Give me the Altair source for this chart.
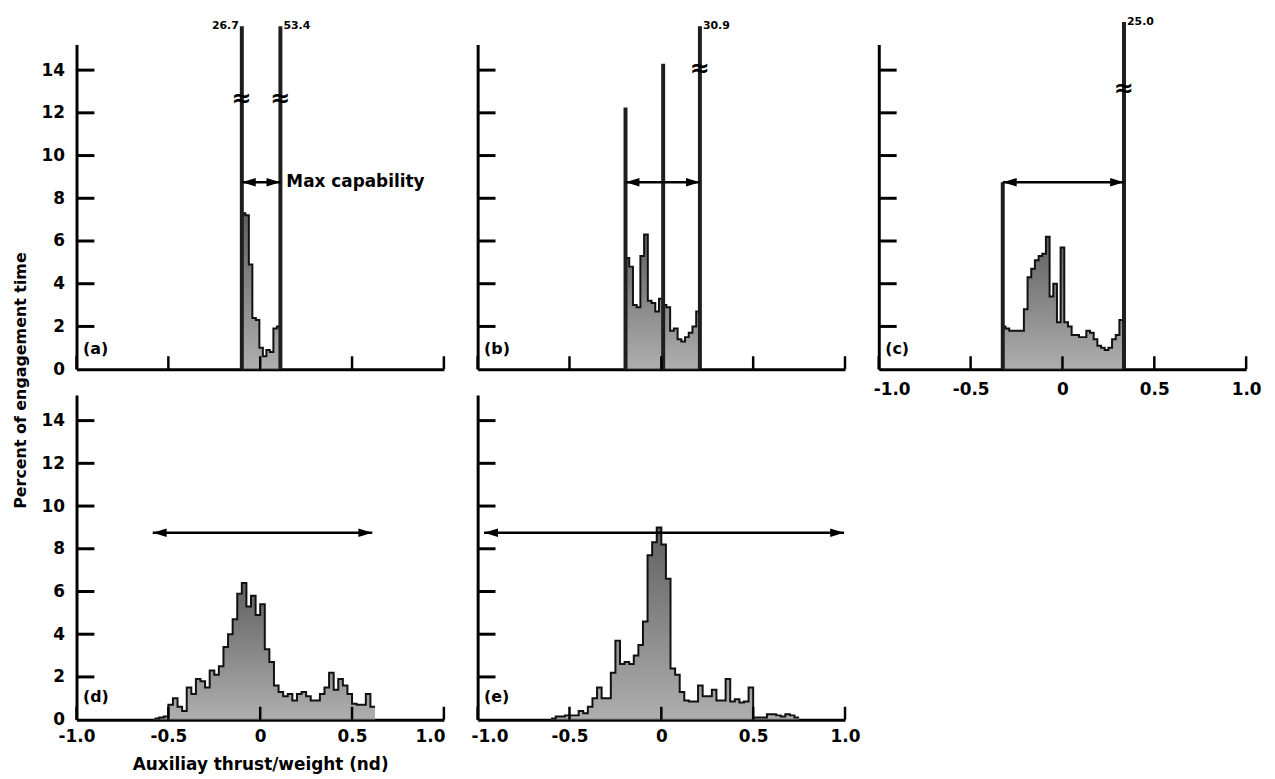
import altair as alt
import pandas as pd

# ---------------- data ----------------
# histogram ranges (x) and bar heights (percent of engagement time)
A_RANGE = (-0.10, 0.11)
A_HEIGHTS = [7.3, 7.2, 4.9, 2.4, 2.3, 1.0, 0.6, 0.9, 0.8, 1.9, 2.0]

B_RANGE = (-0.195, 0.21)
B_HEIGHTS = [5.2, 4.8, 3.0, 2.9, 5.3, 6.3, 3.2, 3.1, 2.7, 3.3,
             3.0, 2.9, 1.8, 1.9, 1.4, 1.3, 1.5, 1.7, 2.0, 2.7]

C_RANGE = (-0.33, 0.33)
C_HEIGHTS = [2.0, 1.9, 1.8, 1.8, 1.8, 1.8, 2.8, 4.3, 4.7, 5.1, 5.3,
             5.4, 6.2, 3.4, 4.0, 2.2, 5.7, 2.2, 2.0, 1.6, 1.6, 1.5,
             1.5, 1.8, 1.7, 1.4, 1.1, 1.0, 0.9, 1.0, 1.4, 1.6, 2.3]

D_RANGE = (-0.575, 0.625)
D_HEIGHTS = [0.05, 0.1, 0.15, 0.7, 1.0, 0.6, 0.4, 1.5, 1.2, 1.9,
             1.8, 1.5, 2.3, 2.1, 2.5, 3.4, 4.0, 4.7, 5.9, 6.4,
             5.3, 5.8, 4.9, 5.4, 3.3, 2.7, 1.6, 1.3, 1.1, 1.2,
             0.9, 1.2, 1.3, 1.1, 0.9, 0.9, 1.2, 1.5, 2.2, 1.4,
             1.9, 1.6, 1.2, 0.75, 0.7, 0.7, 1.2, 0.6]

E_RANGE = (-0.60, 0.75)
E_HEIGHTS = [0.05, 0.15, 0.15, 0.2, 0.2, 0.2, 0.4, 0.3, 0.6, 1.0,
             1.5, 1.0, 1.0, 2.2, 3.7, 2.6, 2.7, 2.6, 3.0, 3.5,
             4.6, 7.7, 8.3, 9.0, 8.2, 6.6, 2.4, 2.1, 1.3, 0.9,
             0.85, 0.85, 1.6, 1.1, 1.1, 1.4, 0.9, 0.9, 1.9, 0.85,
             0.95, 0.8, 0.85, 1.5, 0.1, 0.1, 0.1, 0.25, 0.25, 0.2,
             0.15, 0.25, 0.2, 0.1]

# off-scale / edge spikes: x position, drawn top, value label, break-mark height
A_SPIKE_X = [-0.10, 0.11]
A_SPIKE_TOP = [16.05, 16.05]
A_SPIKE_LABEL = ["26.7", "53.4"]
A_SPIKE_BREAK = [12.65, 12.65]

B_SPIKE_X = [-0.195, 0.01, 0.21]
B_SPIKE_TOP = [12.25, 14.3, 16.05]
B_SPIKE_LABEL = ["", "", "30.9"]
B_SPIKE_BREAK = [None, None, 14.05]

C_SPIKE_X = [-0.325, 0.335]
C_SPIKE_TOP = [8.75, 16.25]
C_SPIKE_LABEL = ["", "25.0"]
C_SPIKE_BREAK = [None, 13.1]

# max-capability arrows: from, to, height
A_ARROW = (-0.10, 0.11, 8.75)
B_ARROW = (-0.195, 0.21, 8.75)
C_ARROW = (-0.325, 0.335, 8.75)
D_ARROW = (-0.585, 0.61, 8.75)
E_ARROW = (-0.965, 0.995, 8.75)

PANEL_LABELS = ["(a)", "(b)", "(c)", "(d)", "(e)"]
X_TICKS = [-1.0, -0.5, 0.0, 0.5, 1.0]
Y_TICKS = [2, 4, 6, 8, 10, 12, 14]
Y_LABELS = [0, 2, 4, 6, 8, 10, 12, 14]
X_TITLE = "Auxiliay thrust/weight (nd)"
Y_TITLE = "Percent of engagement time"
NOTE = "Max capability"

# ---------------- styling ----------------
W, H = 370, 327
FONT = "DejaVu Sans"
XS = alt.Scale(domain=[-1.0, 1.0], nice=False, zero=False)
YS = alt.Scale(domain=[0, 15.2], nice=False, zero=False)
GRAD = alt.Gradient(
    gradient="linear",
    stops=[alt.GradientStop(color="#8c8c8c", offset=0),
           alt.GradientStop(color="#1c1c1c", offset=1)],
    x1=1, x2=1, y1=1, y2=0,
)
LEFT_HEAD = "M0,0 L2,-0.6 L2,0.6 Z"
RIGHT_HEAD = "M0,0 L-2,-0.6 L-2,0.6 Z"
MINUS = "\u2212"


def panel(label, rng, heights, arrow, spike_x=None, spike_top=None, spike_label=None,
          spike_break=None, xlabels=False, ylabels=False, xtitle=None, ytitle=None,
          xlabelpad=9, label_y=0.95, note=False, first_off=0, last_off=0):
    n = len(heights)
    w = (rng[1] - rng[0]) / n
    hist = pd.DataFrame({
        "x": [rng[0] + i * w for i in range(n)] + [rng[1]],
        "h": list(heights) + [heights[-1]],
    })

    xaxis_kw = dict(values=X_TICKS, labels=xlabels, ticks=False, grid=False,
                    domainWidth=3, domainColor="black", labelFlush=False,
                    labelPadding=xlabelpad,
                    labelExpr=("datum.value == 0 ? '0' : replace(format(datum.value, '.1f'), '"
                               + MINUS + "', '-')"))
    if first_off or last_off:
        xaxis_kw["labelOffset"] = {
            "condition": [{"test": "datum.value <= -1", "value": first_off},
                          {"test": "datum.value >= 1", "value": last_off}],
            "value": 0,
        }
    yaxis_kw = dict(values=Y_LABELS, labels=ylabels, ticks=False, grid=False,
                    domainWidth=3, domainColor="black", labelPadding=12)
    if xtitle:
        xaxis_kw.update(title=xtitle, titlePadding=12, titleFontSize=17)
    else:
        xaxis_kw.update(title=None)
    if ytitle:
        yaxis_kw.update(title=ytitle, titleX=-48, titleY=338, titleAngle=270,
                        titleAlign="center", titleBaseline="bottom", titleFontSize=16)
    else:
        yaxis_kw.update(title=None)
    XAX = alt.Axis(**xaxis_kw)
    YAX = alt.Axis(**yaxis_kw)

    def X(f):
        return alt.X(f, type="quantitative", scale=XS, axis=XAX)

    def Y(f):
        return alt.Y(f, type="quantitative", scale=YS, axis=YAX)

    layers = []
    area = alt.Chart(hist).mark_area(
        interpolate="step-after", color=GRAD,
        line=alt.OverlayMarkDef(color="#111111", strokeWidth=2),
    ).encode(x=X("x"), y=Y("h"))
    layers.append(area)

    if spike_x:
        sp = pd.DataFrame({"x": spike_x, "y0": [0] * len(spike_x), "top": spike_top,
                           "lab": spike_label,
                           "brk": [b if b is not None else -5 for b in spike_break]})
        layers.append(alt.Chart(sp).mark_rule(color="#1e1e1e", strokeWidth=4, clip=False).encode(
            x=X("x"), y=Y("y0"), y2="top:Q"))
        brk = sp[sp["brk"] > 0]
        if len(brk):
            layers.append(alt.Chart(brk).mark_text(text="≈", fontSize=24, fontWeight="bold",
                                                    baseline="middle", align="center").encode(
                x=X("x"), y=Y("brk")))
        lab = sp[sp["lab"] != ""].copy()
        if len(lab):
            lab["side"] = ["left" if (label == "(a)" and v < 0) else "right" for v in lab["x"]]
            for side, al, dx in (("left", "right", -3), ("right", "left", 3)):
                part = lab[lab["side"] == side]
                if len(part):
                    layers.append(alt.Chart(part).mark_text(
                        align=al, baseline="middle", dx=dx, fontSize=11, fontWeight="bold",
                        clip=False).encode(x=X("x"), y=Y("top"), text="lab:N"))

    ar = pd.DataFrame({"x1": [arrow[0]], "x2": [arrow[1]], "y": [arrow[2]]})
    layers.append(alt.Chart(ar).mark_rule(color="black", strokeWidth=2.5).encode(
        x=X("x1"), x2="x2:Q", y=Y("y")))
    layers.append(alt.Chart(ar).mark_point(shape=LEFT_HEAD, filled=True, size=196,
                                           color="black", opacity=1, strokeWidth=0).encode(
        x=X("x1"), y=Y("y")))
    layers.append(alt.Chart(ar).mark_point(shape=RIGHT_HEAD, filled=True, size=196,
                                           color="black", opacity=1, strokeWidth=0).encode(
        x=X("x2"), y=Y("y")))

    if note:
        layers.append(alt.Chart(ar).mark_text(text=NOTE, align="left", baseline="middle", dx=6,
                                              fontSize=17, fontWeight="bold").encode(
            x=X("x2"), y=Y("y")))

    pl = pd.DataFrame({"x": [-0.965], "y": [label_y], "t": [label]})
    layers.append(alt.Chart(pl).mark_text(align="left", baseline="middle", fontSize=16,
                                          fontWeight="bold").encode(
        x=X("x"), y=Y("y"), text="t:N"))

    xt = pd.DataFrame({"v": X_TICKS})
    layers.append(alt.Chart(xt).mark_rule(color="black", strokeWidth=2.5).encode(
        x=X("v"), y=alt.value(H), y2=alt.value(H - 13)))
    yt = pd.DataFrame({"v": Y_TICKS})
    layers.append(alt.Chart(yt).mark_rule(color="black", strokeWidth=3).encode(
        y=Y("v"), x=alt.value(0), x2=alt.value(18)))

    return alt.layer(*layers).properties(width=W, height=H)


pa = panel(PANEL_LABELS[0], A_RANGE, A_HEIGHTS, A_ARROW, A_SPIKE_X, A_SPIKE_TOP, A_SPIKE_LABEL,
           A_SPIKE_BREAK, xlabels=False, ylabels=True, ytitle=Y_TITLE, label_y=0.93, note=True)
pb = panel(PANEL_LABELS[1], B_RANGE, B_HEIGHTS, B_ARROW, B_SPIKE_X, B_SPIKE_TOP, B_SPIKE_LABEL,
           B_SPIKE_BREAK, label_y=0.93)
pc = panel(PANEL_LABELS[2], C_RANGE, C_HEIGHTS, C_ARROW, C_SPIKE_X, C_SPIKE_TOP, C_SPIKE_LABEL,
           C_SPIKE_BREAK, xlabels=True, xlabelpad=13, label_y=0.93, first_off=13)
pdd = panel(PANEL_LABELS[3], D_RANGE, D_HEIGHTS, D_ARROW, xlabels=True, ylabels=True,
            xtitle=X_TITLE, label_y=1.07, last_off=-14)
pe = panel(PANEL_LABELS[4], E_RANGE, E_HEIGHTS, E_ARROW, xlabels=True, label_y=1.07,
           first_off=12)

chart = alt.concat(
    pa, pb, pc, pdd, pe, columns=3,
    spacing=alt.RowColnumber(row=26, column=34), bounds="flush",
).properties(
    padding={"left": 5, "top": 5, "right": 5, "bottom": 0}
).configure(font=FONT).configure_view(stroke=None).configure_axis(
    labelFont=FONT, labelFontWeight="bold", labelFontSize=17, labelColor="black",
    titleFont=FONT, titleFontWeight="bold", titleColor="black",
).configure_text(font=FONT, color="black")

chart.save("out.html", embed_options={"renderer": "svg", "actions": False})
